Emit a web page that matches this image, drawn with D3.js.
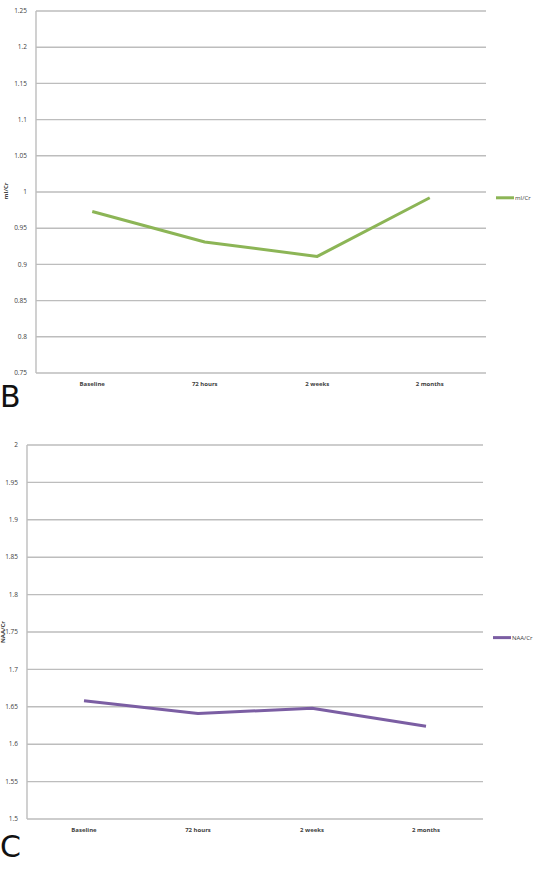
<!DOCTYPE html>
<html>
<head>
<meta charset="utf-8">
<script src="https://cdn.jsdelivr.net/npm/d3@7"></script>
<style>
  body { margin: 0; background: #fff; }
  svg { display: block; }
  text { font-family: "Open Sans", "DejaVu Sans", sans-serif; fill: #404040; }
</style>
</head>
<body>
<svg id="chart" width="543" height="884"></svg>
<script>
// time points (shared by both panels)
var timepoints = ["Baseline", "72 hours", "2 weeks", "2 months"];

// panel B: mI/Cr
var miValues = [0.973, 0.931, 0.911, 0.992];
var miTicks = [0.75, 0.8, 0.85, 0.9, 0.95, 1, 1.05, 1.1, 1.15, 1.2, 1.25];

// panel C: NAA/Cr
var naaValues = [1.658, 1.641, 1.648, 1.624];
var naaTicks = [1.5, 1.55, 1.6, 1.65, 1.7, 1.75, 1.8, 1.85, 1.9, 1.95, 2];

var svg = d3.select("#chart");

function drawPanel(opt) {
  var g = svg.append("g");

  var x = d3.scaleBand()
      .domain(timepoints)
      .range([opt.left, opt.right]);

  var y = d3.scaleLinear()
      .domain([opt.ticks[0], opt.ticks[opt.ticks.length - 1]])
      .range([opt.bottom, opt.top]);

  // gridlines
  g.append("g")
    .selectAll("line")
    .data(opt.ticks)
    .enter().append("line")
      .attr("x1", opt.left)
      .attr("x2", opt.right)
      .attr("y1", function(d) { return y(d); })
      .attr("y2", function(d) { return y(d); })
      .attr("stroke", "#bdbdbd")
      .attr("stroke-width", 1.4);

  // left axis line
  g.append("line")
    .attr("x1", opt.left).attr("x2", opt.left)
    .attr("y1", opt.top).attr("y2", opt.bottom)
    .attr("stroke", "#bdbdbd")
    .attr("stroke-width", 1.4);

  // y tick labels
  g.append("g")
    .selectAll("text")
    .data(opt.ticks)
    .enter().append("text")
      .attr("x", opt.left - 9)
      .attr("y", function(d) { return y(d); })
      .attr("dy", "0.35em")
      .attr("text-anchor", "end")
      .style("font-size", "6.5px")
      .text(function(d) { return d; });

  // x labels
  g.append("g")
    .selectAll("text")
    .data(timepoints)
    .enter().append("text")
      .attr("x", function(d) { return x(d) + x.bandwidth() / 2; })
      .attr("y", opt.bottom + 13)
      .attr("text-anchor", "middle")
      .style("font-size", "6px")
      .style("font-weight", "bold")
      .text(function(d) { return d; });

  // series line
  var line = d3.line()
      .x(function(d, i) { return x(timepoints[i]) + x.bandwidth() / 2; })
      .y(function(d) { return y(d); });

  g.append("path")
    .datum(opt.values)
    .attr("fill", "none")
    .attr("stroke", opt.color)
    .attr("stroke-width", 3)
    .attr("stroke-linejoin", "round")
    .attr("d", line);

  // legend
  var ly = y(opt.legendAt);
  g.append("line")
    .attr("x1", opt.right + 10).attr("x2", opt.right + 28)
    .attr("y1", ly).attr("y2", ly)
    .attr("stroke", opt.color)
    .attr("stroke-width", 3);
  g.append("text")
    .attr("x", opt.right + 29)
    .attr("y", ly)
    .attr("dy", "0.35em")
    .style("font-size", "6px")
    .text(opt.name);

  // y axis title
  g.append("text")
    .attr("transform", "translate(" + opt.titleX + "," + opt.titleY + ") rotate(-90)")
    .attr("text-anchor", "middle")
    .style("font-size", "6px")
    .style("font-weight", "bold")
    .text(opt.name);

  // panel letter
  svg.append("text")
    .attr("x", 0)
    .attr("y", opt.letterY)
    .style("font-size", "30px")
    .style("font-family", "'DejaVu Sans', sans-serif")
    .style("fill", "#111")
    .text(opt.letter);
}

drawPanel({
  values: miValues, ticks: miTicks, name: "mI/Cr", color: "#8cb556",
  left: 36, right: 486, top: 11, bottom: 373,
  legendAt: 0.992, titleX: 8, titleY: 191, letter: "B", letterY: 407
});

drawPanel({
  values: naaValues, ticks: naaTicks, name: "NAA/Cr", color: "#7b5ea3",
  left: 27, right: 483, top: 445, bottom: 819,
  legendAt: 1.7425, titleX: 5, titleY: 632, letter: "C", letterY: 857
});
</script>
</body>
</html>
